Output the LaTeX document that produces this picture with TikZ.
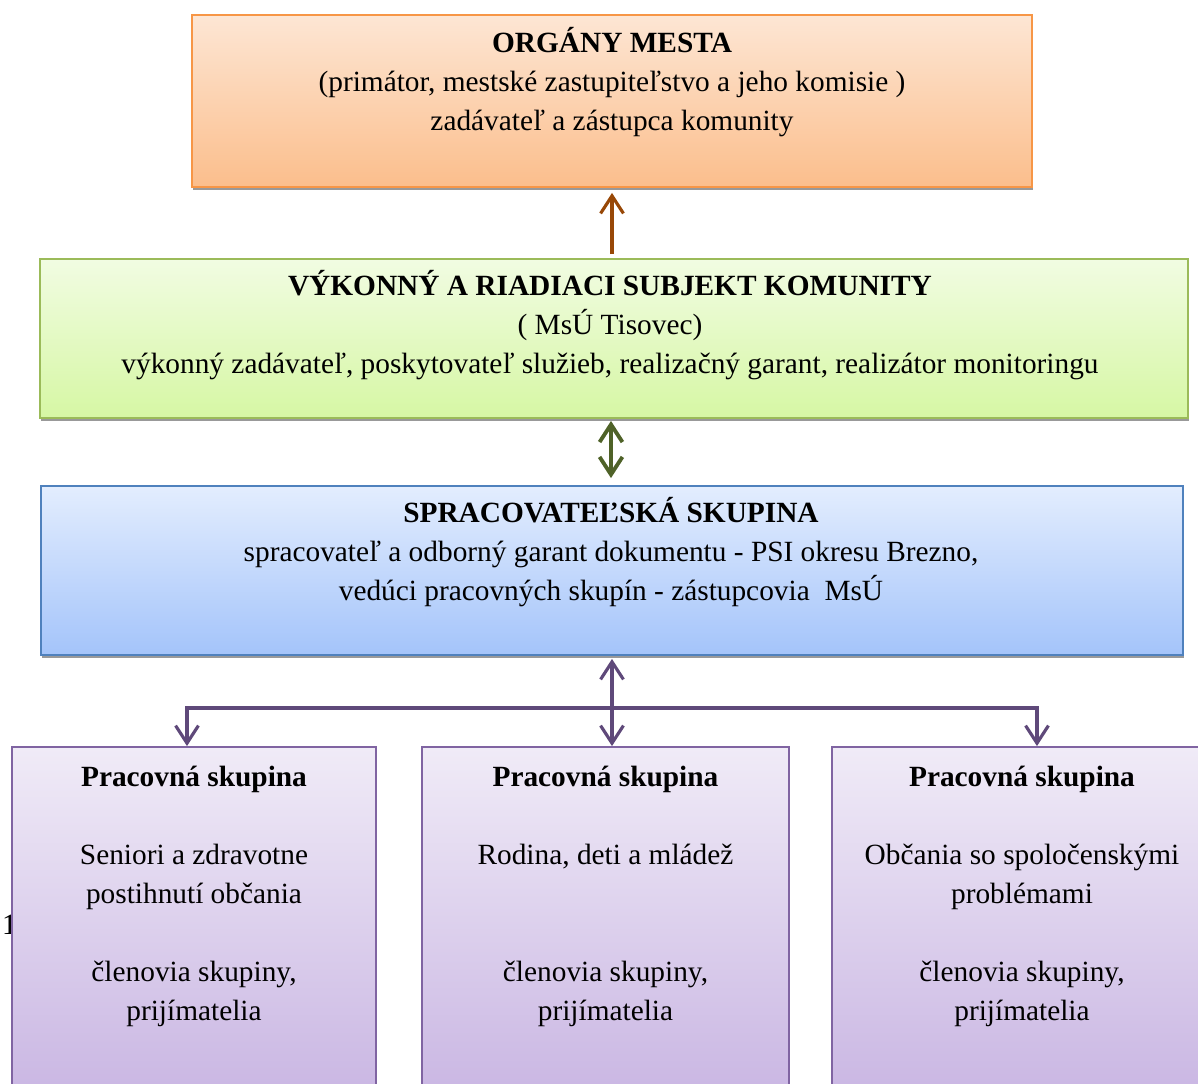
\documentclass[tikz,border=0pt]{standalone}
\usepackage{fontspec}
\setmainfont{Liberation Serif}
\usetikzlibrary{calc}
\usetikzlibrary{shadows}
\usetikzlibrary{arrows.meta}

\definecolor{oranzova}{HTML}{F79646}
\definecolor{oranzovaH}{HTML}{FDE6D4}
\definecolor{oranzovaD}{HTML}{FBBE8C}
\definecolor{zelena}{HTML}{9BBB59}
\definecolor{zelenaH}{HTML}{F1FCE2}
\definecolor{zelenaD}{HTML}{D6F7A4}
\definecolor{modra}{HTML}{4F81BD}
\definecolor{modraH}{HTML}{E3EDFE}
\definecolor{modraD}{HTML}{A4C4FA}
\definecolor{fialova}{HTML}{8064A2}
\definecolor{fialovaH}{HTML}{F0EBF7}
\definecolor{fialovaD}{HTML}{C8B4E2}
\definecolor{hneda}{HTML}{984807}
\definecolor{tmavozelena}{HTML}{4F6228}
\definecolor{tmavofialova}{HTML}{5F497A}

\begin{document}
\begin{tikzpicture}[x=0.02cm, y=-0.02cm]
            \tikzstyle{krabica} = [draw, line width=1.1pt, inner sep=0pt]
            \tikzstyle{tien} = [drop shadow={shadow xshift=0.6pt, shadow yshift=-2pt, fill=black!40, opacity=1}]
            \tikzstyle{popis} = [align=center, font=\fontsize{16.7}{22.2}\selectfont]
            \tikzstyle{sipka} = [line width=1.8pt, -{Straight Barb[length=10pt, width=13pt]}]
            \clip (0, 0) rectangle (1198, 1084);
            \node[popis, anchor=west] (cislo) at (-4, 925) {1};
            \node[krabica, tien, draw=oranzova, top color=oranzovaH, bottom color=oranzovaD,
                minimum width=16.8cm, minimum height=3.44cm] (organy) at (612, 101) {};
            \node[krabica, tien, draw=zelena, top color=zelenaH, bottom color=zelenaD,
                minimum width=22.96cm, minimum height=3.18cm] (vykonny) at (614, 338.5) {};
            \node[krabica, tien, draw=modra, top color=modraH, bottom color=modraD,
                minimum width=22.84cm, minimum height=3.38cm] (spracovatelia) at (612, 570.5) {};
            \node[krabica, draw=fialova, top color=fialovaH, bottom color=fialovaD,
                minimum width=7.28cm, minimum height=7.26cm] (skupina1) at (194, 928.5) {};
            \node[krabica, draw=fialova, top color=fialovaH, bottom color=fialovaD,
                minimum width=7.34cm, minimum height=7.26cm] (skupina2) at (605.5, 928.5) {};
            \node[krabica, draw=fialova, top color=fialovaH, bottom color=fialovaD,
                minimum width=7.6cm, minimum height=7.26cm] (skupina3) at (1022, 928.5) {};
            \node[popis] (organyText) at ($(organy.north) + (0, 68)$) {\textbf{ORGÁNY MESTA}\\(primátor, mestské zastupiteľstvo a jeho komisie )\\zadávateľ a zástupca komunity};
            \node[popis] (vykonnyText) at ($(vykonny.north) + (-4, 67)$) {\textbf{VÝKONNÝ A RIADIACI SUBJEKT KOMUNITY}\\( MsÚ Tisovec)\\výkonný zadávateľ, poskytovateľ služieb, realizačný garant, realizátor monitoringu};
            \node[popis] (spracovateliaText) at ($(spracovatelia.north) + (-1, 67)$) {\textbf{SPRACOVATEĽSKÁ SKUPINA}\\spracovateľ a odborný garant dokumentu - PSI okresu Brezno,\\vedúci pracovných skupín - zástupcovia \ MsÚ};
            \node[popis, anchor=north] (skupina1Text) at ($(skupina1.north) + (0, 14)$) {\textbf{Pracovná skupina}\\[22.2pt]Seniori a zdravotne\\postihnutí občania\\[22.2pt]členovia skupiny,\\prijímatelia};
            \node[popis, anchor=north] (skupina2Text) at ($(skupina2.north) + (0, 14)$) {\textbf{Pracovná skupina}\\[22.2pt]Rodina, deti a mládež\\[44.4pt]členovia skupiny,\\prijímatelia};
            \node[popis, anchor=north] (skupina3Text) at ($(skupina3.north) + (0, 14)$) {\textbf{Pracovná skupina}\\[22.2pt]Občania so spoločenskými\\problémami\\[22.2pt]členovia skupiny,\\prijímatelia};
            \coordinate (rozvod) at (612, 708);
            \coordinate (rozvodL) at (187, 708);
            \coordinate (rozvodP) at (1037, 708);
            \draw[sipka, hneda] ($(organy.south |- vykonny.north) + (0, -4)$) -- ($(organy.south) + (0, 5)$);
            \draw[sipka, tmavozelena, line width=2.2pt, {Straight Barb[length=10pt, width=13pt]}-{Straight Barb[length=10pt, width=13pt]}]
                ($(organy.south |- vykonny.south) + (-1, 2)$) -- ($(organy.south |- spracovatelia.north) + (-1, -7)$);
            \draw[sipka, tmavofialova, {Straight Barb[length=10pt, width=13pt]}-{Straight Barb[length=10pt, width=13pt]}]
                ($(spracovatelia.south) + (0, 3)$) -- (rozvod |- skupina2.north);
            \draw[sipka, tmavofialova] (rozvod) -| (rozvodL |- skupina1.north);
            \draw[sipka, tmavofialova] (rozvod) -| (rozvodP |- skupina3.north);
        \end{tikzpicture}
\end{document}
